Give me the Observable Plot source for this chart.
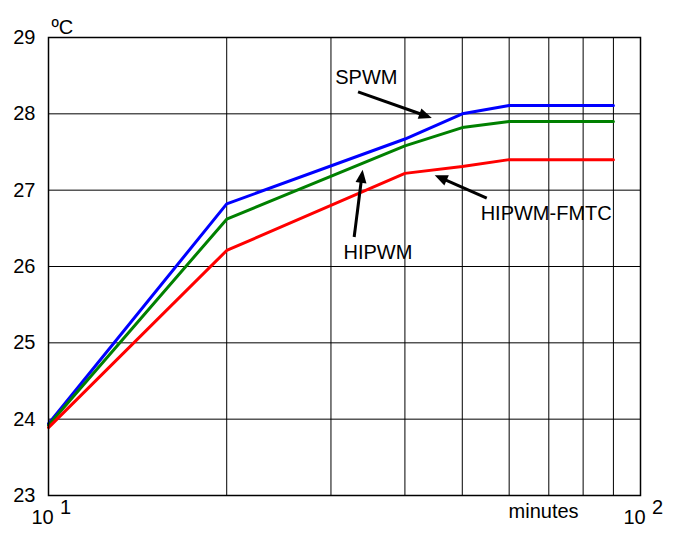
<!DOCTYPE html>
<html>
<head>
<meta charset="utf-8">
<script src="https://cdn.jsdelivr.net/npm/d3@7"></script>
<script src="https://cdn.jsdelivr.net/npm/@observablehq/plot@0.6"></script>
<style>
  html, body { margin: 0; padding: 0; background: #fff; }
  svg { display: block; }
</style>
</head>
<body>
<div id="chart"></div>
<script>
// Data
const minutes = [10, 20, 40, 50, 60, 90];
const spwm = [23.94, 26.82, 27.67, 28.0, 28.11, 28.11];
const hipwm = [23.92, 26.62, 27.58, 27.82, 27.9, 27.9];
const hipwmFmtc = [23.89, 26.21, 27.22, 27.31, 27.4, 27.4];
const seriesNames = ["SPWM", "HIPWM", "HIPWM-FMTC"];
const seriesColors = ["#0000ff", "#008000", "#ff0000"];
const yTicks = [23, 24, 25, 26, 27, 28, 29];
const xGrid = [20, 30, 40, 50, 60, 70, 80, 90];
const yGrid = [24, 25, 26, 27, 28];
const xDecades = [10, 100];
const xDecadeExp = ["1", "2"];

// Annotations (data coordinates)
const labelText = ["SPWM", "HIPWM", "HIPWM-FMTC"];
const labelX = [30.5, 31.5, 53.7];
const labelY = [28.47, 26.18, 26.69];
const arrowX1 = [33.4, 32.9, 55.1];
const arrowY1 = [28.28, 26.38, 26.89];
const arrowX2 = [44.5, 34.0, 45.0];
const arrowY2 = [27.94, 27.26, 27.19];

const lineData = [];
[spwm, hipwm, hipwmFmtc].forEach((vals, i) => {
  vals.forEach((v, j) => lineData.push({series: seriesNames[i], x: minutes[j], y: v}));
});
const labels = labelText.map((t, i) => ({t, x: labelX[i], y: labelY[i]}));
const arrows = arrowX1.map((x1, i) => ({x1, y1: arrowY1[i], x2: arrowX2[i], y2: arrowY2[i]}));
const decades = xDecades.map((x, i) => ({x, e: xDecadeExp[i]}));

const font = "Liberation Sans, Arial, Helvetica, sans-serif";
const headLen = 13, headHalf = 5.5;

// Filled arrowheads drawn through the plot's scales
function arrowHeads(index, scales) {
  const g = d3.create("svg:g");
  for (const a of arrows) {
    const x1 = scales.x(a.x1), y1 = scales.y(a.y1);
    const x2 = scales.x(a.x2), y2 = scales.y(a.y2);
    const dx = x2 - x1, dy = y2 - y1, L = Math.hypot(dx, dy);
    const ux = dx / L, uy = dy / L;
    const bx = x2 - ux * headLen, by = y2 - uy * headLen;
    const pts = [[x2, y2], [bx - uy * headHalf, by + ux * headHalf], [bx + uy * headHalf, by - ux * headHalf]];
    g.append("polygon").attr("points", pts.map(p => p.join(",")).join(" ")).attr("fill", "black");
    g.append("line")
      .attr("x1", x1).attr("y1", y1).attr("x2", bx + ux * 2).attr("y2", by + uy * 2)
      .attr("stroke", "black").attr("stroke-width", 3);
  }
  return g.node();
}

const chart = Plot.plot({
  width: 680,
  height: 533,
  marginLeft: 48,
  marginRight: 40,
  marginTop: 37,
  marginBottom: 38,
  style: {fontFamily: font, fontSize: "20px", color: "black", background: "white"},
  x: {type: "log", domain: [10, 100], axis: null},
  y: {domain: [23, 29], axis: null},
  color: {domain: seriesNames, range: seriesColors},
  marks: [
    Plot.gridX(xGrid, {stroke: "black", strokeOpacity: 1, strokeWidth: 1}),
    Plot.gridY(yGrid, {stroke: "black", strokeOpacity: 1, strokeWidth: 1}),
    Plot.line(lineData, {x: "x", y: "y", z: "series", stroke: "series", strokeWidth: 3, strokeLinejoin: "miter"}),
    Plot.frame({stroke: "black", strokeWidth: 1.5}),
    Plot.axisY(yTicks, {tickSize: 0, tickPadding: 13, fontSize: 20, label: null, fill: "black", tickFormat: d3.format("d")}),
    Plot.text(decades, {x: "x", frameAnchor: "bottom", dy: 28, dx: -6, text: () => "10", fontSize: 20, fill: "black"}),
    Plot.text(decades, {x: "x", frameAnchor: "bottom", dy: 18, dx: 17, text: "e", fontSize: 20, fill: "black"}),
    Plot.text(["minutes"], {x: 68.6, frameAnchor: "bottom", dy: 22, text: d => d, fontSize: 20, fill: "black"}),
    Plot.text(["ºC"], {frameAnchor: "top-left", dx: 3, dy: -18, text: d => d, textAnchor: "start", fontSize: 20, fill: "black"}),
    Plot.text(labels, {x: "x", y: "y", text: "t", textAnchor: "start", fontSize: 20, fill: "black"}),
    arrowHeads
  ]
});
document.getElementById("chart").appendChild(chart);
</script>
</body>
</html>
